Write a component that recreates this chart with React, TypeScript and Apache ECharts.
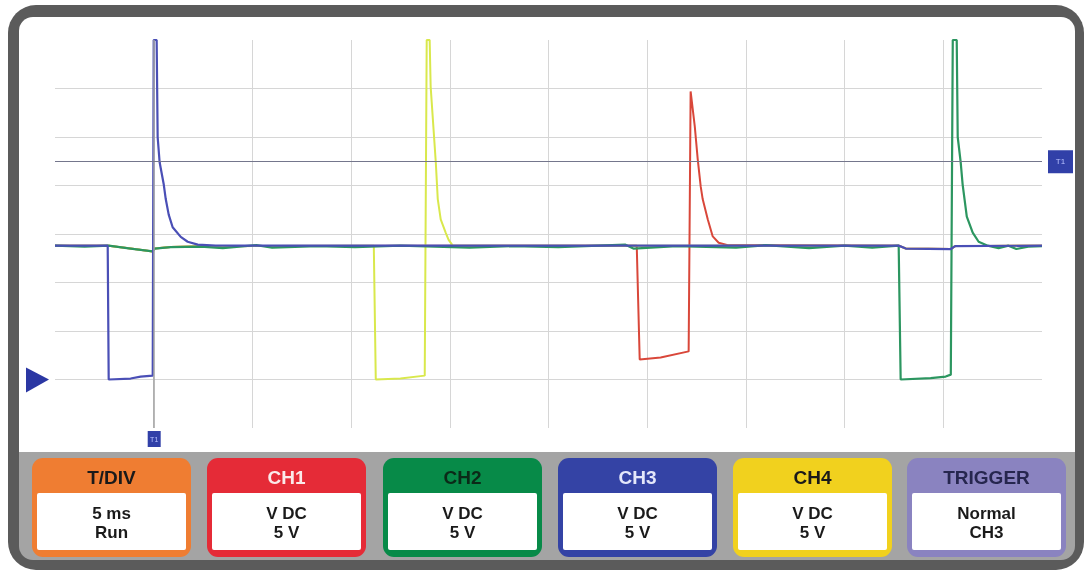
import React, { useEffect, useRef } from "react";
import * as echarts from "echarts";

// Time in ms (trigger at 0), voltage in V (5 ms/div, 5 V/div)
const timeTicks = { min: -5, max: 45, interval: 5 };
const voltTicks = { min: -5, max: 35, interval: 5 };

const ch1Trace: [number, number][] = [
  [-5, 13.8], [-2.28, 13.8], [-1.17, 13.5], [-0.05, 13.2], [0.05, 13.5], [0.86, 13.65],
  [2.4, 13.75], [24.47, 13.8], [24.62, 2.06], [25.68, 2.27], [27.1, 2.9], [27.2, 29.7],
  [27.41, 26.1], [27.56, 22.7], [27.71, 19.9], [27.81, 18.6], [28.07, 16.5], [28.32, 14.75],
  [28.62, 14.1], [29.08, 13.85], [37.74, 13.8], [38.1, 13.5], [40.38, 13.45], [40.6, 13.75],
  [45, 13.8],
];

const ch2Trace: [number, number][] = [
  [-5, 13.8], [-3.5, 13.7], [-2.28, 13.8], [-1.17, 13.5], [-0.05, 13.2], [0.05, 13.5],
  [0.86, 13.65], [2.4, 13.7], [3.5, 13.55], [5.2, 13.85], [6.0, 13.6], [8.3, 13.75],
  [10.2, 13.65], [12.5, 13.8], [16.0, 13.6], [18.2, 13.75], [20.5, 13.65], [23.9, 13.9],
  [24.3, 13.5], [26.5, 13.75], [29.5, 13.6], [31.0, 13.85], [33.2, 13.55], [35.0, 13.8],
  [36.4, 13.6], [37.74, 13.8], [37.84, 0.0], [39.36, 0.15], [40.12, 0.3], [40.38, 0.5],
  [40.48, 35], [40.68, 35], [40.73, 25.0], [40.88, 22.4], [40.98, 20.1], [41.19, 16.8],
  [41.49, 15.15], [41.79, 14.2], [42.25, 13.8], [42.8, 13.55], [43.3, 13.8], [43.7, 13.45],
  [44.3, 13.7], [45, 13.75],
];

const ch3Trace: [number, number][] = [
  [-5, 13.8], [-2.33, 13.8], [-2.28, 0.0], [-1.17, 0.1], [-0.66, 0.3], [-0.05, 0.4],
  [0.0, 35], [0.15, 35], [0.2, 25.0], [0.3, 22.4], [0.51, 20.1], [0.61, 18.6], [0.76, 17.0],
  [0.96, 15.7], [1.37, 14.7], [1.72, 14.2], [2.23, 13.9], [3.14, 13.8], [37.74, 13.8],
  [38.1, 13.5], [40.38, 13.45], [40.6, 13.75], [45, 13.8],
];

const ch4Trace: [number, number][] = [
  [-5, 13.8], [-2.28, 13.8], [-1.17, 13.5], [-0.05, 13.2], [0.05, 13.5], [0.86, 13.65],
  [2.4, 13.75], [11.15, 13.8], [11.25, 0.0], [12.5, 0.1], [13.73, 0.4], [13.83, 35],
  [13.98, 35], [14.03, 30.2], [14.29, 22.4], [14.39, 18.6], [14.54, 16.5], [14.79, 15.15],
  [14.94, 14.4], [15.15, 13.8], [37.74, 13.8], [38.1, 13.5], [40.38, 13.45], [40.6, 13.75],
  [45, 13.8],
];

const triggerTime = 0;
const triggerLevel = 22.5;
const groundLevel = 0;

const panelTitles = ["T/DIV", "CH1", "CH2", "CH3", "CH4", "TRIGGER"];
const panelLine1 = ["5 ms", "V DC", "V DC", "V DC", "V DC", "Normal"];
const panelLine2 = ["Run", "5 V", "5 V", "5 V", "5 V", "CH3"];
const panelColors = ["#ef7d32", "#e52b37", "#078a48", "#3443a5", "#f1d11e", "#8a83c0"];
const panelTitleColors = ["#1a1a1a", "#fbeaea", "#0b2a18", "#e4e7fa", "#1a1a1a", "#26264e"];

const FONT = "'Liberation Sans', Arial, sans-serif";

export default function App() {
  const ref = useRef<HTMLDivElement>(null);
  useEffect(() => {
    if (!ref.current) return;
    const chart = echarts.init(ref.current, null, { renderer: "svg" });
    const lineSeries = (name: string, data: [number, number][], color: string, width = 2) => ({
      name,
      type: "line",
      data,
      showSymbol: false,
      clip: false,
      lineStyle: { color, width },
      itemStyle: { color },
      silent: true,
    });
    chart.setOption({
      animation: false,
      grid: { left: 55, right: 42, top: 40, bottom: 143 },
      xAxis: {
        type: "value",
        ...timeTicks,
        axisLine: { show: false },
        axisTick: { show: false },
        axisLabel: { show: false },
        splitLine: { show: true, showMinLine: false, showMaxLine: false, lineStyle: { color: "#d6d6d6", width: 1 } },
      },
      yAxis: {
        type: "value",
        ...voltTicks,
        axisLine: { show: false },
        axisTick: { show: false },
        axisLabel: { show: false },
        splitLine: { show: true, showMinLine: false, showMaxLine: false, lineStyle: { color: "#d6d6d6", width: 1 } },
      },
      series: [
        {
          type: "line",
          data: [],
          silent: true,
          markLine: {
            silent: true,
            symbol: "none",
            label: { show: false },
            animation: false,
            data: [
              { xAxis: triggerTime, lineStyle: { color: "#a2a2a2", width: 1.5, type: "solid" } },
              { yAxis: triggerLevel, lineStyle: { color: "#74768c", width: 1.2, type: "solid" } },
            ],
          },
        },
        lineSeries("CH1", ch1Trace, "#d9473a"),
        lineSeries("CH4", ch4Trace, "#d9e84c"),
        lineSeries("CH2", ch2Trace, "#2c9660", 2.2),
        lineSeries("CH3", ch3Trace, "#4a4fb6", 2.2),
      ],
    });

    const [tx, bottomY] = chart.convertToPixel({ gridIndex: 0 }, [triggerTime, voltTicks.min]) as number[];
    const [rightX, ty] = chart.convertToPixel({ gridIndex: 0 }, [timeTicks.max, triggerLevel]) as number[];
    const [leftX, gy] = chart.convertToPixel({ gridIndex: 0 }, [timeTicks.min, groundLevel]) as number[];

    const panelX = [32, 207, 383, 558, 733, 907];
    const pw = 159;
    const panels: any[] = [];
    panelX.forEach((x, i) => {
      panels.push({
        type: "rect",
        shape: { x, y: 458, width: pw, height: 99, r: 11 },
        style: { fill: panelColors[i] },
        z: 1,
      });
      panels.push({
        type: "rect",
        shape: { x: x + 5, y: 493, width: pw - 10, height: 57, r: 2 },
        style: { fill: "#ffffff" },
        z: 2,
      });
      panels.push({
        type: "text",
        x: x + pw / 2,
        y: 477,
        style: {
          text: panelTitles[i],
          fill: panelTitleColors[i],
          font: `bold 19px ${FONT}`,
          textAlign: "center",
          textVerticalAlign: "middle",
        },
        z: 3,
      });
      panels.push({
        type: "text",
        x: x + pw / 2,
        y: 513,
        style: {
          text: panelLine1[i],
          fill: "#1a1a1a",
          font: `bold 17px ${FONT}`,
          textAlign: "center",
          textVerticalAlign: "middle",
        },
        z: 3,
      });
      panels.push({
        type: "text",
        x: x + pw / 2,
        y: 532,
        style: {
          text: panelLine2[i],
          fill: "#1a1a1a",
          font: `bold 17px ${FONT}`,
          textAlign: "center",
          textVerticalAlign: "middle",
        },
        z: 3,
      });
    });

    chart.setOption({
      graphic: [
        { type: "rect", shape: { x: 8, y: 5, width: 1076, height: 565, r: 28 }, style: { fill: "#5b5b5b" }, z: -10 },
        { type: "rect", shape: { x: 19, y: 17, width: 1056, height: 436, r: [14, 14, 0, 0] }, style: { fill: "#ffffff" }, z: -9 },
        { type: "rect", shape: { x: 19, y: 452, width: 1056, height: 108, r: [0, 0, 14, 14] }, style: { fill: "#a4a4a4" }, z: -9 },
        ...panels,
        { type: "rect", shape: { x: tx - 6, y: bottomY + 3, width: 13, height: 16 }, style: { fill: "#3140a8" }, z: 5 },
        {
          type: "text", x: tx + 0.5, y: bottomY + 11,
          style: { text: "T1", fill: "#b8c0ff", font: `7px ${FONT}`, textAlign: "center", textVerticalAlign: "middle" }, z: 6,
        },
        { type: "rect", shape: { x: rightX + 6, y: ty - 11, width: 25, height: 23 }, style: { fill: "#3140a8" }, z: 5 },
        {
          type: "text", x: rightX + 18.5, y: ty,
          style: { text: "T1", fill: "#b8c0ff", font: `8px ${FONT}`, textAlign: "center", textVerticalAlign: "middle" }, z: 6,
        },
        {
          type: "polygon",
          shape: { points: [[leftX - 29, gy - 12], [leftX - 6, gy], [leftX - 29, gy + 13]] },
          style: { fill: "#2b37a3" },
          z: 5,
        },
      ],
    });
    return () => chart.dispose();
  }, []);
  return <div ref={ref} style={{ position: "fixed", left: 0, top: 0, width: 1084, height: 571 }} />;
}
